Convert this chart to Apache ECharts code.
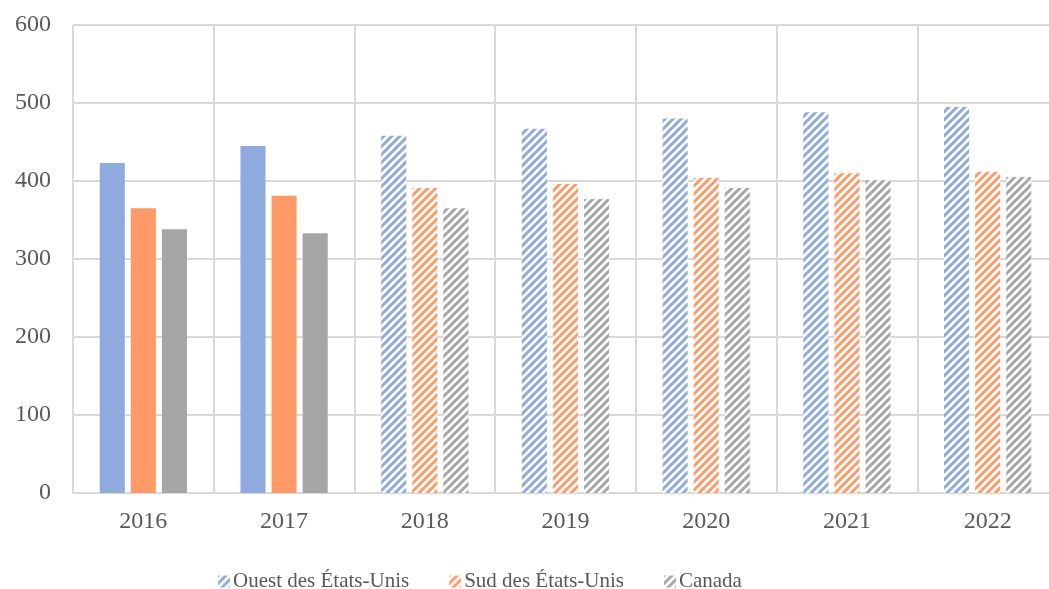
<!DOCTYPE html>
<html>
<head>
<meta charset="utf-8">
<script src="https://cdn.jsdelivr.net/npm/echarts@6/dist/echarts.min.js"></script>
<style>
  html, body { margin: 0; padding: 0; background: #fff; overflow: hidden; }
  #chart { width: 1062px; height: 589px; }
</style>
</head>
<body>
<div id="chart"></div>
<script>
// data
var years = ["2016", "2017", "2018", "2019", "2020", "2021", "2022"];
var ouest = [423, 445, 458, 467, 480, 488, 495];
var sud = [365, 381, 391, 396, 404, 410, 412];
var canada = [338, 333, 365, 377, 391, 401, 405];
var yTicks = [0, 100, 200, 300, 400, 500, 600];
// first two years are solid, the rest are projections (hatched)
var solidCount = 2;

var seriesNames = ["Ouest des États-Unis", "Sud des États-Unis", "Canada"];
var seriesColors = ["#8faadc", "#ff9a66", "#a6a6a6"];
var font = "Liberation Serif";
var textColor = "#595959";

// diagonal hatch tile, "/" direction
function hatch(color) {
    var size = 8;
    var c = document.createElement("canvas");
    c.width = size;
    c.height = size;
    var ctx = c.getContext("2d");
    ctx.fillStyle = "#ffffff";
    ctx.fillRect(0, 0, size, size);
    ctx.strokeStyle = color;
    ctx.lineWidth = 3;
    ctx.beginPath();
    ctx.moveTo(-1, size + 1);
    ctx.lineTo(size + 1, -1);
    ctx.moveTo(-3, 3);
    ctx.lineTo(3, -3);
    ctx.moveTo(size - 3, size + 3);
    ctx.lineTo(size + 3, size - 3);
    ctx.stroke();
    return { image: c, repeat: "repeat" };
}

function buildData(values, solid) {
    var out = [];
    for (var i = 0; i < values.length; i++) {
        if (i < solidCount) {
            out.push({ value: values[i], itemStyle: { color: solid } });
        } else {
            out.push(values[i]);
        }
    }
    return out;
}

var allValues = [ouest, sud, canada];
var series = [];
for (var s = 0; s < allValues.length; s++) {
    series.push({
        name: seriesNames[s],
        type: "bar",
        barGap: "24%",
        barCategoryGap: "38%",
        itemStyle: { color: hatch(seriesColors[s]) },
        data: buildData(allValues[s], seriesColors[s]),
        animation: false
    });
}

var myChart = echarts.init(document.getElementById("chart"));

// plot runs a little past the right edge of the window, as in the original
var option = {
    backgroundColor: "#ffffff",
    textStyle: { fontFamily: font },
    grid: {
        left: 73,
        top: 25,
        right: 4,
        bottom: 96,
        containLabel: false
    },
    legend: {
        left: 213,
        top: 566,
        itemWidth: 12,
        itemHeight: 12,
        itemGap: 40,
        icon: "rect",
        textStyle: { fontFamily: font, fontSize: 21, color: textColor, padding: [0, 0, 0, -2] },
        data: seriesNames
    },
    xAxis: {
        type: "category",
        data: years,
        boundaryGap: true,
        axisLine: { show: true, lineStyle: { color: "#d9d9d9", width: 2 } },
        axisTick: { show: false },
        splitLine: { show: true, lineStyle: { color: "#d9d9d9", width: 2 } },
        axisLabel: { fontFamily: font, fontSize: 24, color: textColor, margin: 17 }
    },
    yAxis: {
        type: "value",
        min: yTicks[0],
        max: yTicks[yTicks.length - 1],
        interval: 100,
        axisLine: { show: false },
        axisTick: { show: false },
        splitLine: { show: true, lineStyle: { color: "#d9d9d9", width: 2 } },
        axisLabel: { fontFamily: font, fontSize: 24, color: textColor, margin: 22 }
    },
    series: series
};

myChart.setOption(option);
</script>
</body>
</html>
